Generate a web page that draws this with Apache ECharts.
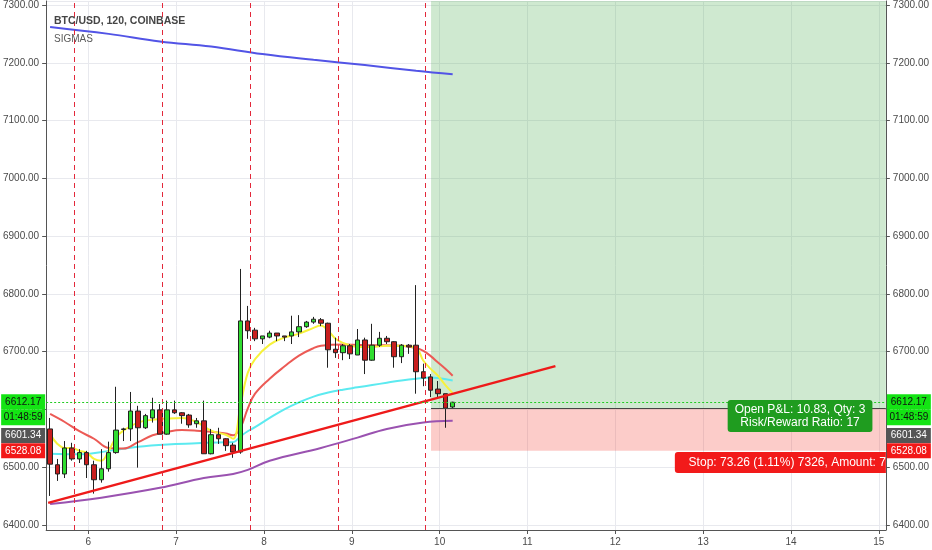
<!DOCTYPE html>
<html><head><meta charset="utf-8">
<script src="https://cdn.jsdelivr.net/npm/echarts@6/dist/echarts.min.js"></script>
<style>html,body{margin:0;padding:0;background:#fff}#c{width:932px;height:550px}</style>
</head><body><div id="c"></div>
<script>
// ---- time base: 120-minute bars, x axis measured in days ----
const startDay = 5.565;
const barStep = 1 / 12;

// ---- OHLC ----
const opens  = [6566,6504,6488,6533,6514,6525,6504,6478,6497,6525, 6565,6566,6597,6568,6585,6599,6557,6599,6594,6590, 6575,6580,6523,6556,6549,6538,6526,6753,6737,6722, 6725,6732,6727,6727,6734,6743,6751,6755,6749,6704, 6698,6710,6694,6720,6685,6711,6723,6717,6691,6711, 6711,6665,6656,6635,6627,6604];
const closes = [6505,6488,6533,6514,6525,6504,6478,6497,6525,6564, 6566,6597,6568,6589,6599,6557,6599,6594,6589,6573, 6580,6523,6556,6549,6537,6526,6753,6736,6722,6727, 6732,6727,6725,6734,6743,6751,6756,6749,6703,6698, 6710,6696,6720,6685,6711,6723,6717,6691,6711,6708, 6665,6654,6633,6627,6602,6612.17];
const lows   = [6450,6476,6481,6511,6507,6481,6454,6473,6492,6523, 6545,6545,6499,6566,6577,6557,6556,6592,6575,6568, 6568,6523,6522,6540,6528,6516,6523,6722,6718,6713, 6723,6718,6718,6713,6725,6741,6748,6744,6672,6689, 6685,6687,6694,6661,6684,6708,6713,6672,6680,6696, 6627,6640,6621,6621,6568,6602];
const highs  = [6585,6514,6545,6542,6531,6528,6511,6531,6544,6639, 6568,6630,6606,6592,6620,6609,6615,6615,6595,6592, 6585,6615,6566,6568,6550,6542,6843,6779,6741,6727, 6736,6732,6727,6762,6763,6753,6760,6758,6750,6724, 6713,6713,6739,6724,6748,6734,6727,6718,6713,6713, 6815,6679,6661,6649,6627,6613];

// ---- indicator lines (bar index -> value) ----
const yellowIdx = [0,1,2,3,4,5,6,7,8,9,10,12,14,16,18,20,22,24,25,26,27,28,30,32,34,36,37,38,39,40,42,44,46,48,50,51,52,53,54,55];
const yellowVal = [6557,6540,6533,6533,6528,6525,6514,6511,6528,6551,6563,6577,6582,6584,6585,6578,6563,6556,6549,6606,6663,6687,6712,6724,6731,6741,6745,6736,6722,6715,6708,6708,6710,6710,6706,6684,6670,6658,6642,6628];
const redIdx = [0,2,4,6,8,10,12,14,16,18,20,22,24,25,26,27,28,30,32,34,36,37,40,44,48,50,51,52,53,54,55];
const redVal = [6592,6578,6562,6549,6533,6532,6543,6555,6561,6564,6563,6561,6558,6555,6568,6601,6627,6653,6674,6693,6706,6710,6712,6711,6710,6706,6701,6692,6681,6670,6658];
const cyanIdx = [0,4,8,12,16,20,24,25,26,27,28,30,32,34,36,38,40,42,44,46,48,50,52,53,55];
const cyanVal = [6523,6522,6528,6535,6539,6541,6543,6543,6553,6562,6569,6585,6600,6612,6622,6629,6634,6638,6642,6646,6650,6653,6655,6654,6650];
const purpleIdx = [0,7,15,21,25,27,30,37,42,46,51,55];
const purpleVal = [6436,6447,6464,6481,6488,6495,6511,6533,6551,6566,6577,6580];
const blueIdx = [0,8,15,22,29,36,43,50,55];
const blueVal = [7262,7250,7237,7228,7215,7205,7196,7186,7180];

// ---- trend line drawing (day, price) ----
const trendDays = [5.543, 11.318];
const trendVals = [6438, 6674.7];

// ---- session breaks (day) ----
const sessionBreaks = [5.838, 6.838, 7.838, 8.838, 9.838];

// ---- position tool ----
const positionStart = 9.902;
const entryPrice = 6601.34;
const stopPrice = 6528.08;
const lastPrice = 6612.17;
const countdown = '01:48:59';
const pnlText = 'Open P&L: 10.83, Qty: 3\nRisk/Reward Ratio: 17';
const stopText = 'Stop: 73.26 (1.11%) 7326, Amount: 7';

// ---- axes ----
const xMin = 5.52, xMax = 15.08;
const yMin = 6391, yMax = 7307;

const FONT = "'Liberation Sans', Arial, sans-serif";
const barTime = i => startDay + i * barStep;
const pairs = (idx, vals) => idx.map((i, k) => [barTime(i), vals[k]]);
const candleData = opens.map((o, i) => [barTime(i), o, closes[i], lows[i], highs[i]]);
const HIDDEN = {color: 'rgba(0,0,0,0)', width: 1};

function tag(text, bg, fg, gapH, side, extra) {
  const rich = {
    gap: {height: gapH, lineHeight: gapH, fontSize: 1, color: 'rgba(0,0,0,0)'},
    t: {backgroundColor: bg, color: fg, width: 44, height: 15, lineHeight: 15, align: 'center', fontSize: 10, fontFamily: FONT},
    u: {backgroundColor: bg, color: fg, width: 44, height: 16, lineHeight: 16, align: 'center', fontSize: 10, fontFamily: FONT}
  };
  let f = (gapH ? '{gap| }\n' : '') + '{t|' + text + '}';
  if (extra) f += '\n{u|' + extra + '}';
  return {show: true, position: side, distance: 1, formatter: () => f, rich: rich};
}

const axisLabelBase = {color: '#4a4a4a', fontFamily: FONT, fontSize: 10};

const option = {
  animation: false,
  backgroundColor: '#ffffff',
  title: [
    {text: 'BTC/USD, 120, COINBASE', left: 49, top: 11, textStyle: {fontFamily: FONT, fontSize: 10.5, fontWeight: 'bold', color: '#454545'}},
    {text: 'SIGMAS', left: 49, top: 29, textStyle: {fontFamily: FONT, fontSize: 10, fontWeight: 'normal', color: '#5a5a5a'}}
  ],
  grid: {left: 45, right: 46, top: 0, bottom: 20},
  xAxis: {
    type: 'value', min: xMin, max: xMax, splitNumber: 10,
    axisLine: {lineStyle: {color: '#555'}},
    axisTick: {length: 4, lineStyle: {color: '#555'}},
    axisLabel: Object.assign({}, axisLabelBase, {margin: 7, showMinLabel: false, showMaxLabel: false,
      formatter: v => Number.isInteger(v) ? String(v) : ''}),
    splitLine: {show: true, lineStyle: {color: '#e8e9ee'}}
  },
  yAxis: [
    {type: 'value', position: 'left', min: yMin, max: yMax, splitNumber: 9,
     axisLine: {show: true, lineStyle: {color: '#555'}},
     axisTick: {show: true, length: 4, lineStyle: {color: '#555'}},
     axisLabel: Object.assign({}, axisLabelBase, {margin: 7, showMinLabel: false, showMaxLabel: false, formatter: v => v.toFixed(2)}),
     splitLine: {show: true, lineStyle: {color: '#e8e9ee'}}},
    {type: 'value', position: 'right', min: yMin, max: yMax, splitNumber: 9,
     axisLine: {show: true, lineStyle: {color: '#555'}},
     axisTick: {show: true, length: 4, lineStyle: {color: '#555'}},
     axisLabel: Object.assign({}, axisLabelBase, {margin: 7, showMinLabel: false, showMaxLabel: false, formatter: v => v.toFixed(2)}),
     splitLine: {show: false}}
  ],
  series: [
    {
      name: 'position', type: 'line', data: [], z: 1, silent: true,
      markArea: {
        silent: true,
        data: [
          [{coord: [positionStart, entryPrice], itemStyle: {color: 'rgba(76,175,80,0.27)'}}, {coord: [xMax, yMax]}],
          [{coord: [positionStart, stopPrice], itemStyle: {color: 'rgba(244,67,54,0.27)'}}, {coord: [xMax, entryPrice]}]
        ]
      },
      markLine: {
        silent: true, symbol: ['none', 'none'], label: {show: false},
        lineStyle: {color: '#e3283a', type: [5, 4], width: 1},
        data: sessionBreaks.map(d => ({xAxis: d}))
      }
    },
    {name: 'SIGMA long', type: 'line', data: pairs(blueIdx, blueVal), smooth: 0.4, showSymbol: false, z: 2,
     lineStyle: {color: '#5254e6', width: 2}},
    {name: 'SIGMA slow', type: 'line', data: pairs(purpleIdx, purpleVal), smooth: 0.4, showSymbol: false, z: 2,
     lineStyle: {color: '#9a52b0', width: 2}},
    {name: 'SIGMA mid', type: 'line', data: pairs(cyanIdx, cyanVal), smooth: 0.4, showSymbol: false, z: 2,
     lineStyle: {color: '#5ceaf0', width: 2}},
    {name: 'SIGMA medium', type: 'line', data: pairs(redIdx, redVal), smooth: 0.4, showSymbol: false, z: 2,
     lineStyle: {color: '#ec5a55', width: 2}},
    {name: 'SIGMA fast', type: 'line', data: pairs(yellowIdx, yellowVal), smooth: 0.4, showSymbol: false, z: 2,
     lineStyle: {color: '#f7f23a', width: 2}},
    {name: 'BTC/USD', type: 'candlestick', data: candleData, barWidth: 5, z: 3,
     itemStyle: {color: '#30dd30', color0: '#c81e1e', borderColor: '#222', borderColor0: '#222', borderWidth: 1}},
    {name: 'trend', type: 'line', data: trendDays.map((d, i) => [d, trendVals[i]]), showSymbol: false, z: 4,
     lineStyle: {color: '#ee1a1a', width: 2.5}},
    {
      name: 'tags', type: 'line', data: [], z: 5, silent: true,
      markLine: {
        silent: true, symbol: ['none', 'none'],
        data: [
          {yAxis: lastPrice, lineStyle: {color: '#22cc22', type: [2, 2], width: 1},
           label: tag(lastPrice.toFixed(2), '#14e414', '#111', 15, 'start', countdown)},
          {yAxis: lastPrice, lineStyle: HIDDEN,
           label: tag(lastPrice.toFixed(2), '#14e414', '#111', 15, 'end', countdown)},
          {yAxis: entryPrice, lineStyle: HIDDEN,
           label: tag(entryPrice.toFixed(2), '#555555', '#fff', 54, 'start')},
          {yAxis: entryPrice, lineStyle: HIDDEN,
           label: tag(entryPrice.toFixed(2), '#555555', '#fff', 54, 'end')},
          {yAxis: stopPrice, lineStyle: HIDDEN,
           label: tag(stopPrice.toFixed(2), '#f21818', '#fff', 0, 'start')},
          {yAxis: stopPrice, lineStyle: HIDDEN,
           label: tag(stopPrice.toFixed(2), '#f21818', '#fff', 0, 'end')},
          [{coord: [positionStart, entryPrice], lineStyle: {color: '#444', width: 1, type: 'solid'}, label: {show: false}},
           {coord: [xMax, entryPrice]}]
        ]
      },
      markPoint: {
        silent: true, symbol: 'rect', symbolSize: 0,
        data: [
          {coord: [14.103, 6588.3], label: {show: true, position: 'inside', formatter: () => pnlText,
            backgroundColor: '#1f9c1f', color: '#fff', padding: [3, 7, 3, 7], borderRadius: 3,
            lineHeight: 13, fontSize: 12, fontFamily: FONT}},
          {coord: [xMax, 6508], label: {show: true, position: 'left', distance: 0, formatter: () => stopText,
            backgroundColor: '#f21a1a', color: '#fff', padding: [4, 0, 4, 7], borderRadius: [3, 0, 0, 3],
            width: 204, overflow: 'truncate', ellipsis: '',
            lineHeight: 13, fontSize: 12, fontFamily: FONT}}
        ]
      }
    }
  ]
};

const chart = echarts.init(document.getElementById('c'), null, {renderer: 'canvas'});
chart.setOption(option);
</script>
</body></html>
